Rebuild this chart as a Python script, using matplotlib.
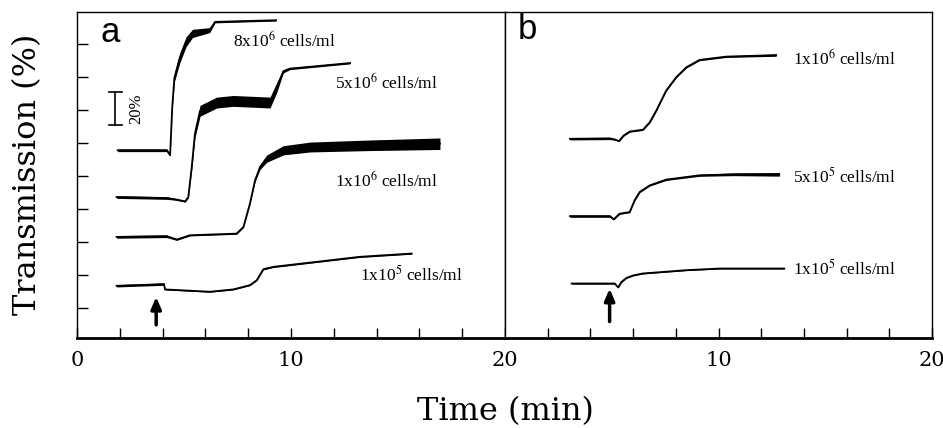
import matplotlib
matplotlib.use("Agg")
import matplotlib.pyplot as plt
import numpy as np

plt.rcParams['mathtext.fontset'] = 'stix'

# ---------------- data (time in min, transmission in %-units) ----------------
# Panel a
a8e6_t = [1.9, 4.2, 4.35, 4.45, 4.55, 4.8, 5.1, 5.4, 6.2, 6.45, 9.3]
a8e6_y = [114, 114, 111, 140, 158, 170, 180, 185, 187, 192, 193]
a8e6_w = [0.8, 0.8, 0.5, 1.0, 2.5, 3.0, 3.0, 2.5, 1.5, 0.6, 0.5]

a5e6_t = [1.85, 4.19, 4.6, 5.05, 5.2, 5.36, 5.51, 5.75, 6.53, 7.3, 9.02, 9.33, 9.64, 9.95, 12.76]
a5e6_y = [85.6, 85.0, 84.2, 83.0, 85.5, 103.6, 124, 138, 143, 144, 143, 152, 162, 163.6, 167]
a5e6_w = [0.8, 0.8, 0.5, 0.5, 0.5, 1.5, 2.5, 3.3, 3.3, 3.3, 3.3, 3.0, 1.0, 0.6, 0.5]

a1e6_t = [1.85, 4.19, 4.66, 5.28, 7.46, 7.78, 8.08, 8.32, 8.55, 8.86, 9.64, 10.9, 13.54, 16.96]
a1e6_y = [61.4, 61.8, 59.8, 62.4, 63.4, 67.5, 81.6, 95.7, 103.8, 108.9, 114, 116, 117, 118]
a1e6_w = [0.8, 0.8, 0.5, 0.4, 0.4, 0.4, 0.5, 0.8, 1.5, 2.2, 2.8, 3.0, 3.2, 3.5]

a1e5_t = [1.85, 4.07, 4.11, 6.21, 7.3, 8.08, 8.4, 8.71, 9.17, 13.2, 15.64]
a1e5_y = [31.7, 32.7, 29.5, 28.1, 29.5, 32.1, 35.1, 41.8, 43.2, 49.3, 51.3]
a1e5_w = [0.7, 0.7, 0.3, 0.3, 0.3, 0.3, 0.3, 0.4, 0.4, 0.4, 0.4]

# Panel b
b1e6_t = [3.04, 4.91, 5.14, 5.34, 5.56, 5.84, 6.46, 6.78, 7.09, 7.55, 8.02, 8.49, 9.11, 10.36, 12.7]
b1e6_y = [121, 121.2, 120.6, 119.6, 123, 125.4, 126.5, 131, 138.2, 150.3, 158.4, 164.4, 168.9, 170.9, 171.8]
b1e6_w = [0.7, 0.7, 0.4, 0.4, 0.4, 0.4, 0.4, 0.4, 0.4, 0.4, 0.4, 0.4, 0.5, 0.5, 0.7]

b5e5_t = [3.04, 4.91, 5.09, 5.37, 5.84, 6.07, 6.31, 6.78, 7.55, 9.11, 10.67, 12.85]
b5e5_y = [74, 74, 72.1, 75.5, 76.5, 83.6, 88.7, 92.7, 96.2, 98.8, 99.4, 99.4]
b5e5_w = [0.7, 0.7, 0.4, 0.4, 0.4, 0.4, 0.4, 0.4, 0.5, 0.6, 0.8, 1.1]

b1e5_t = [3.12, 5.14, 5.3, 5.45, 5.69, 6.0, 6.46, 8.49, 10.05, 13.08]
b1e5_y = [33.1, 33.1, 30.7, 34, 36.5, 38, 39.2, 41.2, 42.2, 42.2]
b1e5_w = [0.4, 0.4, 0.3, 0.3, 0.3, 0.3, 0.3, 0.3, 0.3, 0.3]

labels_a = ["8x10$^{6}$ cells/ml", "5x10$^{6}$ cells/ml", "1x10$^{6}$ cells/ml", "1x10$^{5}$ cells/ml"]
label_a_t = [7.3, 12.06, 12.06, 13.22]
label_a_y = [180.6, 155.3, 95.7, 38.2]
labels_b = ["1x10$^{6}$ cells/ml", "5x10$^{5}$ cells/ml", "1x10$^{5}$ cells/ml"]
label_b_t = [13.47, 13.47, 13.47]
label_b_y = [169.5, 97.7, 42.2]

arrow_a = (3.7, 8, 25)
arrow_b = (4.9, 10, 30)

xticks_a = [0, 10, 20]
xticks_b = [10, 20]
xticks_minor = [2, 4, 6, 8, 12, 14, 16, 18]
yticks = [18.5, 38.5, 58.5, 78.5, 98.5, 118.5, 138.5, 158.5, 178.5]

# ---------------- figure ----------------
fig = plt.figure(figsize=(9.43, 4.28), dpi=100)
axa = fig.add_axes([77/943, 90/428, 428/943, 326/428])
axb = fig.add_axes([505/943, 90/428, 427/943, 326/428])

def trace(ax, t, y, w):
    t = np.asarray(t); y = np.asarray(y); w = np.asarray(w)
    ax.fill_between(t, y - w, y + w, color='black', lw=0)
    ax.plot(t, y, color='black', lw=1.3)

for ax in (axa, axb):
    ax.set_xlim(0, 20)
    ax.set_ylim(0, 198)
    for s in ax.spines.values():
        s.set_linewidth(1.0)
    ax.spines['bottom'].set_linewidth(2.0)
    ax.set_xticks(xticks_minor, minor=True)
    ax.tick_params(axis='x', which='both', direction='in', length=7, width=1,
                   labelsize=15, pad=9)

axa.set_xticks(xticks_a)
axa.set_xticklabels(["0", "10", "20"], family='DejaVu Serif', fontsize=15)
axb.set_xticks(xticks_b)
axb.set_xticklabels(["10", "20"], family='DejaVu Serif', fontsize=15)

axa.set_yticks(yticks)
axa.set_yticklabels([])
axa.tick_params(axis='y', direction='in', length=8, width=1)
axb.set_yticks([])

trace(axa, a8e6_t, a8e6_y, a8e6_w)
trace(axa, a5e6_t, a5e6_y, a5e6_w)
trace(axa, a1e6_t, a1e6_y, a1e6_w)
trace(axa, a1e5_t, a1e5_y, a1e5_w)
trace(axb, b1e6_t, b1e6_y, b1e6_w)
trace(axb, b5e5_t, b5e5_y, b5e5_w)
trace(axb, b1e5_t, b1e5_y, b1e5_w)

for txt, tx, ty in zip(labels_a, label_a_t, label_a_y):
    axa.text(tx, ty, txt, fontsize=12.5, family='Liberation Serif', va='center', ha='left')
for txt, tx, ty in zip(labels_b, label_b_t, label_b_y):
    axb.text(tx, ty, txt, fontsize=12.5, family='Liberation Serif', va='center', ha='left')

for ax, (tx, y0, y1) in ((axa, arrow_a), (axb, arrow_b)):
    ax.annotate("", xy=(tx, y1), xytext=(tx, y0),
                arrowprops=dict(arrowstyle='-|>,head_length=0.7,head_width=0.3',
                                color='black', lw=2.5, shrinkA=0, shrinkB=0))

# panel letters
axa.text(1.54, 185.7, "a", fontsize=25, family='Liberation Sans', ha='center', va='center')
axb.text(1.03, 187.6, "b", fontsize=25, family='Liberation Sans', ha='center', va='center')

# scale bar 20%
axa.plot([1.78, 1.78], [129.5, 149.5], color='black', lw=1.2)
axa.plot([1.5, 2.1], [129.5, 129.5], color='black', lw=1.2)
axa.plot([1.5, 2.1], [149.5, 149.5], color='black', lw=1.2)
axa.text(2.79, 139.5, "20%", rotation=90, fontsize=12, family='Liberation Serif',
         ha='center', va='center')

fig.text(28/943, 1 - 174.5/428, "Transmission (%)", rotation=90, fontsize=23,
         family='DejaVu Serif', ha='center', va='center')
fig.text(505/943, 1 - 412/428, "Time (min)", fontsize=23, family='DejaVu Serif',
         ha='center', va='center')

fig.savefig("out.png", dpi=100)
